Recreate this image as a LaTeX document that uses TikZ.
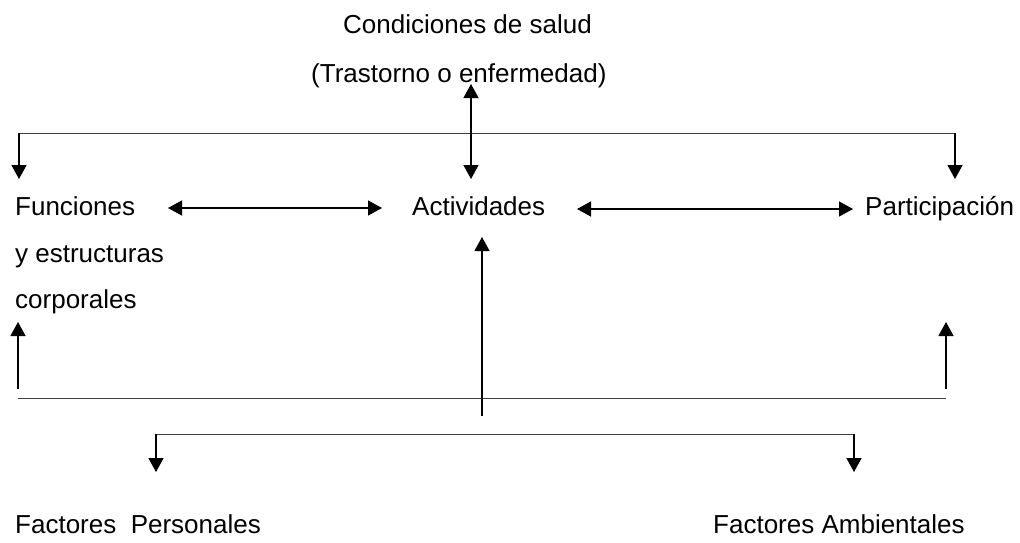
\documentclass[tikz,border=0pt]{standalone}
\usepackage{fontspec}
\setmainfont{Liberation Sans}
\usetikzlibrary{arrows.meta}
\begin{document}
\begin{tikzpicture}[x=1pt,y=-1pt,
  lbl/.style={anchor=base west,inner sep=0pt,font=\fontsize{26}{30}\selectfont,text=black},
  conn/.style={line width=1.3pt,draw=black},
  plain/.style={line width=1pt,draw=black!75},
  tip/.style={-{Triangle[length=14pt,width=15pt]}},
  dtip/.style={{Triangle[length=14pt,width=15pt]}-{Triangle[length=14pt,width=15pt]}}]
\useasboundingbox (0,0) rectangle (1020,542);
% texts
\node[lbl] (cond) at (343,33) {Condiciones de salud};
\node[lbl] (tras) at (311,82) {(Trastorno o enfermedad)};
\node[lbl] (func) at (15,215) {Funciones};
\node[lbl] (func2) at (15,262) {y estructuras};
\node[lbl] (func3) at (15,308) {corporales};
\node[lbl] (act) at (412,215) {Actividades};
\node[lbl] (part) at (865,215) {Participación};
\node[lbl] (fp) at (15,533) {Factores\ \ Personales};
\node[lbl] (fa) at (713,533) {Factores Ambientales};
% coordinates
\coordinate (tl) at (19,133);
\coordinate (tr) at (955,133);
\coordinate (tlend) at (19,179);
\coordinate (trend) at (955,179);
\coordinate (vtop) at (471,84);
\coordinate (vbot) at (471,179);
\coordinate (h1a) at (168,208);
\coordinate (h1b) at (382,208);
\coordinate (h2a) at (577,209);
\coordinate (h2b) at (853,209);
\coordinate (ul0) at (18,389);
\coordinate (ul1) at (18,322);
\coordinate (ur0) at (946,389);
\coordinate (ur1) at (946,322);
\coordinate (bl) at (18,398);
\coordinate (br) at (946,398);
\coordinate (c0) at (482,416);
\coordinate (c1) at (482,237);
\coordinate (fl) at (156,434);
\coordinate (fr) at (854,434);
\coordinate (flend) at (156,472);
\coordinate (frend) at (854,472);
% connectors
\draw[plain] (tl) -- (tr);
\draw[conn,tip] (tl) -- (tlend);
\draw[conn,tip] (tr) -- (trend);
\draw[conn,dtip] (vtop) -- (vbot);
\draw[conn,dtip] (h1a) -- (h1b);
\draw[conn,dtip] (h2a) -- (h2b);
\draw[conn,tip] (ul0) -- (ul1);
\draw[conn,tip] (ur0) -- (ur1);
\draw[plain] (bl) -- (br);
\draw[conn,tip] (c0) -- (c1);
\draw[plain] (fl) -- (fr);
\draw[conn,tip] (fl) -- (flend);
\draw[conn,tip] (fr) -- (frend);
\end{tikzpicture}
\end{document}
